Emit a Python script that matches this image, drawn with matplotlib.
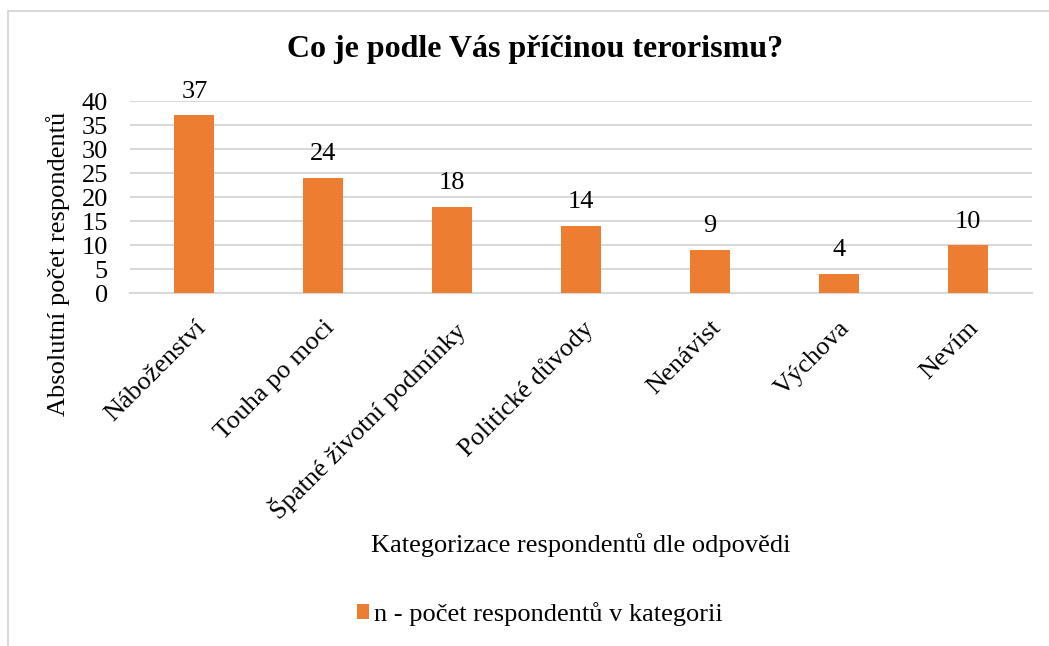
import matplotlib.pyplot as plt
from matplotlib.lines import Line2D

plt.rcParams['font.family'] = ['Liberation Serif', 'DejaVu Serif']

categories = ['Náboženství', 'Touha po moci', 'Špatné životní podmínky',
              'Politické důvody', 'Nenávist', 'Výchova', 'Nevím']
values = [37, 24, 18, 14, 9, 4, 10]
yticks = [0, 5, 10, 15, 20, 25, 30, 35, 40]

W, H = 1049, 646
fig = plt.figure(figsize=(W / 100, H / 100), dpi=100)
ax = fig.add_axes([130 / W, 1 - 293 / H, (1032 - 130) / W, (293 - 101) / H])

orange = '#ED7D31'
grid = '#D9D9D9'
fs = 19

x = range(len(categories))
bars = ax.bar(x, values, width=0.31, color=orange, zorder=3,
              label='n - počet respondentů v kategorii')
for xi, v in zip(x, values):
    ax.annotate(str(v), (xi, v), xytext=(0, 9), textcoords='offset points',
                ha='center', va='bottom', fontsize=fs)

ax.set_xlim(-0.5, len(categories) - 0.5)
ax.set_ylim(0, 40)
ax.set_yticks(yticks)
ax.yaxis.grid(True, color=grid, linewidth=1.5, zorder=0)
ax.set_axisbelow(True)
for s in ['top', 'right', 'left']:
    ax.spines[s].set_visible(False)
ax.spines['bottom'].set_color(grid)
ax.spines['bottom'].set_linewidth(1.5)
ax.tick_params(axis='both', length=0, labelsize=fs)
ax.tick_params(axis='y', pad=16)
ax.set_xticks(list(x))
ax.set_xticklabels(categories, rotation=45, ha='right', rotation_mode='anchor')
ax.tick_params(axis='x', pad=17)

fig.text(535 / W, 1 - 50 / H, 'Co je podle Vás příčinou terorismu?',
         ha='center', va='center', fontsize=23, fontweight='bold')
fig.text(58 / W, 1 - 264 / H, 'Absolutní počet respondentů', rotation=90,
         ha='center', va='center', fontsize=fs)
fig.text(581 / W, 1 - 545 / H, 'Kategorizace respondentů dle odpovědi',
         ha='center', va='center', fontsize=fs)

fig.legend(handles=[bars], loc='center', bbox_to_anchor=(540 / W, 1 - 614 / H),
           frameon=False, fontsize=fs, handlelength=0.45, handleheight=0.45,
           handletextpad=0.2, borderpad=0)

# chart frame (cropped at right and bottom)
fig.add_artist(Line2D([8 / W, 8 / W, 1], [0, 1 - 11 / H, 1 - 11 / H],
                      transform=fig.transFigure, color=grid, linewidth=1.5))

fig.savefig('out.png', dpi=100)
